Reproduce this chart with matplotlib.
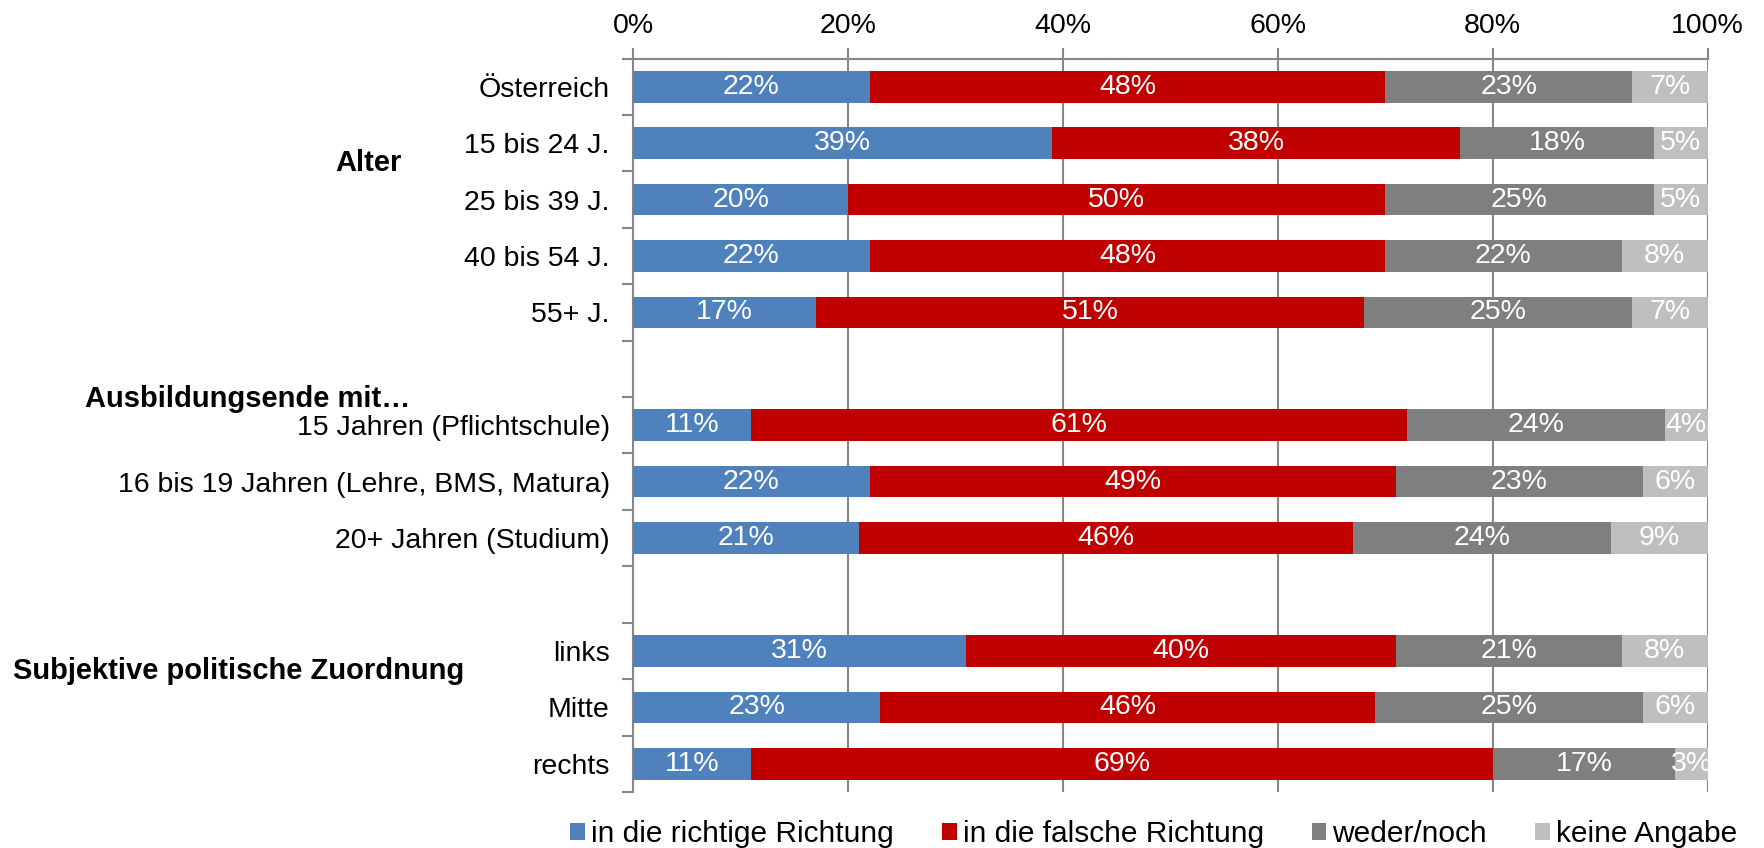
import numpy as np
import matplotlib
matplotlib.use('Agg')
import matplotlib.pyplot as plt
import matplotlib.transforms as mtransforms
from matplotlib.patches import Patch

plt.rcParams['font.family'] = ['Liberation Sans', 'DejaVu Sans']

# rows from top to bottom, '' = empty spacer row
categories = ['Österreich', '15 bis 24 J.', '25 bis 39 J.', '40 bis 54 J.', '55+ J.', '',
              '15 Jahren (Pflichtschule)', '16 bis 19 Jahren (Lehre, BMS, Matura)',
              '20+ Jahren (Studium)', '',
              'links', 'Mitte', 'rechts']

richtig = [22, 39, 20, 22, 17, 0, 11, 22, 21, 0, 31, 23, 11]
falsch = [48, 38, 50, 48, 51, 0, 61, 49, 46, 0, 40, 46, 69]
weder = [23, 18, 25, 22, 25, 0, 24, 23, 24, 0, 21, 25, 17]
keine = [7, 5, 5, 8, 7, 0, 4, 6, 9, 0, 8, 6, 3]

series_names = ['in die richtige Richtung', 'in die falsche Richtung', 'weder/noch', 'keine Angabe']
colors = ['#4F81BD', '#C00000', '#7F7F7F', '#BFBFBF']

group_labels = ['Alter', 'Ausbildungsende mit…', 'Subjektive politische Zuordnung']
group_y = [1.35, 5.54, 10.36]
group_x = [0.2086, 0.1406, 0.1355]

grid_col = '#878787'
fs = 20.5

fig = plt.figure(figsize=(17.64, 8.48), dpi=100)
ax = fig.add_axes([0.359, 0.066, 0.609, 0.865])

y = np.arange(len(categories))
left = np.zeros(len(categories))
for vals, name, col in zip([richtig, falsch, weder, keine], series_names, colors):
    vals = np.array(vals, dtype=float)
    ax.barh(y, vals, left=left, height=0.56, color=col, label=name, zorder=3)
    for yi, v, l in zip(y, vals, left):
        if v > 0:
            ax.text(l + v / 2, yi, f'{int(v)}%', ha='center', va='center',
                    color='white', fontsize=fs, zorder=4)
    left += vals

ax.set_xlim(0, 100)
ax.set_ylim(len(categories) - 0.5, -0.5)

ax.xaxis.tick_top()
ax.set_xticks(np.arange(0, 101, 20))
ax.set_xticklabels([f'{v}%' for v in range(0, 101, 20)], fontsize=fs)
ax.tick_params(axis='x', which='major', direction='out', length=8, width=1.5,
               color=grid_col, pad=6)
ax.xaxis.grid(True, color=grid_col, linewidth=1.5, zorder=0)

ax.set_yticks(y)
ax.set_yticklabels(categories, fontsize=fs)
ax.tick_params(axis='y', which='major', length=0, pad=17)
ax.set_yticks(np.arange(-0.5, len(categories), 1), minor=True)
ax.tick_params(axis='y', which='minor', direction='out', length=8, width=1.5,
               color=grid_col)

for s in ['bottom', 'right']:
    ax.spines[s].set_visible(False)
for s in ['top', 'left']:
    ax.spines[s].set_color(grid_col)
    ax.spines[s].set_linewidth(1.5)

trans = mtransforms.blended_transform_factory(fig.transFigure, ax.transData)
for lab, gx, gy in zip(group_labels, group_x, group_y):
    ax.text(gx, gy, lab, transform=trans, ha='center', va='center',
            fontsize=21, fontweight='bold')

handles = [Patch(facecolor=c, edgecolor='none') for c in colors]
fig.legend(handles, series_names, loc='center', bbox_to_anchor=(0.654, 0.0165),
           ncol=4, frameon=False, fontsize=21.5, handlelength=0.5, handleheight=0.5,
           handletextpad=0.2, columnspacing=1.6)

fig.savefig('out.png', dpi=100)
